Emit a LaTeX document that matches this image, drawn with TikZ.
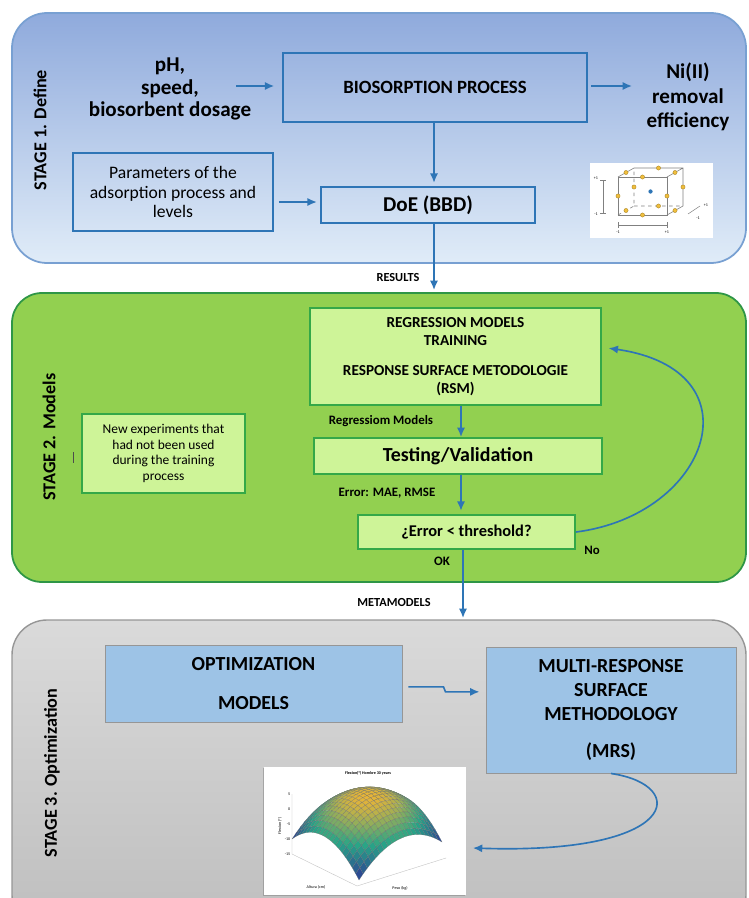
\documentclass[tikz,border=0pt]{standalone}
\usepackage{fontspec}
\setmainfont{Carlito}
\usetikzlibrary{arrows.meta,shadows}

\definecolor{lineblue}{RGB}{46,117,182}
\definecolor{defbordr}{RGB}{120,160,210}
\definecolor{deftop}{RGB}{143,170,220}
\definecolor{defbot}{RGB}{224,236,248}
\definecolor{modfill}{RGB}{146,208,80}
\definecolor{modbordr}{RGB}{46,150,70}
\definecolor{lightgreen}{RGB}{206,244,152}
\definecolor{boxgreen}{RGB}{52,168,72}
\definecolor{opttop}{RGB}{218,218,218}
\definecolor{optbot}{RGB}{190,190,190}
\definecolor{optbordr}{RGB}{150,150,150}
\definecolor{optbox}{RGB}{157,195,230}
\definecolor{pbl}{RGB}{45,55,150}
\definecolor{pgr}{RGB}{40,165,135}
\definecolor{pye}{RGB}{232,180,55}
\definecolor{dotyellow}{RGB}{240,190,60}

\tikzset{
  arr/.style={draw=lineblue, line width=1.4pt, -{Latex[length=8pt,width=7pt]}},
  bluebox/.style={draw=lineblue, line width=1.4pt, inner sep=0pt, align=center},
  greenbox/.style={draw=boxgreen, line width=1.6pt, fill=lightgreen, inner sep=0pt, align=center},
  optibox/.style={draw=optbordr, line width=0.8pt, fill=optbox, inner sep=0pt, align=center},
  stagelabel/.style={rotate=90, font=\fontsize{15.5}{18}\selectfont\bfseries},
  smalllabel/.style={font=\fontsize{10.5}{12}\selectfont\bfseries},
  tinylabel/.style={font=\fontsize{3.5}{4}\selectfont, inner sep=0.5pt},
}

\begin{document}
\begin{tikzpicture}[x=0.03cm, y=-0.03cm,
    declare function={sx(\u,\v)=367-16.75*\u+20.75*\v;
                      sy(\u,\v)=840.5-10.25*\u-9.5*\v-3*(15-1.875*(\u*\u+\v*\v));}]
\useasboundingbox (0,0) rectangle (748,898);

% STAGE 1
\draw[defbordr, line width=1.5pt, top color=deftop, bottom color=defbot, rounded corners=1.05cm] (12,13) rectangle (746,263);
\node[stagelabel] (stage1) at (40,130) {STAGE 1. Define};
\node[align=center, font=\fontsize{18}{19.5}\selectfont\bfseries] (inputs) at (170,89) {pH,\\speed,\\biosorbent dosage};
\node[bluebox, minimum width=9.12cm, minimum height=2.07cm, font=\fontsize{16}{18}\selectfont\bfseries] (bio) at (435,87.5) {BIOSORPTION PROCESS};
\node[align=center, font=\fontsize{18}{21}\selectfont\bfseries] (outputs) at (688,97) {Ni(II)\\removal\\efficiency};
\node[bluebox, minimum width=6cm, minimum height=2.34cm, font=\fontsize{15}{17}\selectfont] (params) at (173,192) {Parameters of the\\adsorption process and\\levels};
\node[bluebox, minimum width=6.42cm, minimum height=1.08cm, font=\fontsize{18}{20}\selectfont\bfseries] (doe) at (428,205) {DoE (BBD)};

\coordinate (spine1) at (434,0);
\coordinate (inarr) at (236,86);
\coordinate (outarr) at (632,86);
\coordinate (parrow) at (0,202);
\coordinate (results) at (434,290);
\draw[arr, shorten >=0.24cm] (inarr) -- (bio.west |- inarr);
\draw[arr, shorten <=0.1cm] (bio.east |- outarr) -- (outarr);
\draw[arr, shorten >=0.1cm] (bio.south -| spine1) -- (doe.north -| spine1);
\draw[arr, shorten <=0.15cm, shorten >=0.1cm] (params.east |- parrow) -- (doe.west |- parrow);
\draw[arr] (doe.south -| spine1) -- (results);
\node[smalllabel] (reslabel) at (398,278) {RESULTS};

% box-behnken cube
\fill[white] (590,163) rectangle (713,238);
\draw[gray, line width=0.5pt] (618,177) rectangle (667,215);
\draw[gray, line width=0.5pt] (618,177) -- (634,168) -- (683,168) -- (683,206) -- (667,215)
      (667,177) -- (683,168);
\draw[gray, line width=0.5pt, dashed] (618,215) -- (634,206) -- (634,168) (634,206) -- (683,206);
\foreach \p in {(642.5,177),(667,196),(642.5,215),(618,196),(658.5,168),(683,187),
                (658.5,206),(634,187),(626,172.5),(675,172.5),(675,210.5),(626,210.5)}
  \filldraw[fill=dotyellow, draw=dotyellow!70!black, line width=0.3pt] \p circle (1.8pt);
\fill[lineblue] (650.5,191.5) circle (1.8pt);
\draw[gray, line width=0.4pt] (603,180) -- (603,213) (600,180) -- (606,180) (600,213) -- (606,213);
\draw[gray, line width=0.4pt] (618,225) -- (667,225) (618,222) -- (618,228) (667,222) -- (667,228);
\draw[gray, line width=0.4pt] (688,214) -- (700,206);
\node[tinylabel] (cp1) at (596,178) {+1};
\node[tinylabel] (cm1) at (596,214) {-1};
\node[tinylabel] (cp2) at (618,232) {-1};
\node[tinylabel] (cm2) at (667,232) {+1};
\node[tinylabel] (cp3) at (706,205) {+1};
\node[tinylabel] (cm3) at (698,218) {-1};

% STAGE 2
\draw[modbordr, line width=1.5pt, fill=modfill, rounded corners=0.9cm] (12,293) rectangle (746,582);
\node[stagelabel] (stage2) at (49,437) {STAGE 2. Models};
\draw[black!70, line width=0.6pt] (73,452) -- (73,463);
\node[greenbox, minimum width=4.89cm, minimum height=2.37cm, font=\fontsize{11.5}{13.2}\selectfont] (newexp) at (163.5,453.5) {New experiments that\\had not been used\\during the training\\process};
\node[greenbox, minimum width=8.73cm, minimum height=2.91cm, font=\fontsize{13}{15.4}\selectfont\bfseries] (train) at (455.5,356.5) {REGRESSION MODELS\\TRAINING\\[10pt]RESPONSE SURFACE METODOLOGIE\\(RSM)};
\node[greenbox, minimum width=8.64cm, minimum height=1.08cm, font=\fontsize{17}{19}\selectfont\bfseries] (test) at (458,456) {Testing/Validation};
\node[greenbox, minimum width=6.51cm, minimum height=1.02cm, font=\fontsize{14}{16}\selectfont\bfseries] (check) at (466.5,532) {¿Error < threshold?};

\coordinate (spine2) at (461,0);
\coordinate (meta) at (463,618);
\draw[arr] (train.south -| spine2) -- (test.north -| spine2);
\draw[arr, shorten >=0.1cm] (test.south -| spine2) -- (check.north -| spine2);
\draw[arr] (check.south -| meta) -- (meta);
\draw[arr] (check.east) .. controls (710,515) and (760,370) .. ([xshift=0.2cm,yshift=0.25cm]train.east);
\node[smalllabel, font=\fontsize{11}{13}\selectfont\bfseries] (reglabel) at (381,421) {Regressiom Models};
\node[smalllabel, font=\fontsize{11}{13}\selectfont\bfseries] (errlabel) at (387,493) {Error: MAE, RMSE};
\node[smalllabel, font=\fontsize{11}{13}\selectfont\bfseries] (oklabel) at (442,561) {OK};
\node[smalllabel, font=\fontsize{11}{13}\selectfont\bfseries] (nolabel) at (592,550) {No};
\node[smalllabel] (metalabel) at (394,603) {METAMODELS};

% STAGE 3
\draw[optbordr, line width=1.2pt, top color=opttop, bottom color=optbot, rounded corners=1.05cm] (12,620) rectangle (746,930);
\node[stagelabel] (stage3) at (52,773) {STAGE 3. Optimization};
\node[optibox, minimum width=8.91cm, minimum height=2.31cm, font=\fontsize{17}{20.5}\selectfont\bfseries] (optim) at (253.5,683.5) {OPTIMIZATION\\[12pt]MODELS};
\node[optibox, minimum width=7.5cm, minimum height=3.78cm, font=\fontsize{17}{20.5}\selectfont\bfseries] (mrs) at (611,710) {MULTI-RESPONSE\\SURFACE\\METHODOLOGY\\[11pt](MRS)};
\node[fill=white, minimum width=6.06cm, minimum height=3.84cm, inner sep=0pt,
      drop shadow={shadow xshift=-0.8pt, shadow yshift=-0.8pt, opacity=0.5}] (plot) at (365,831) {};

\draw[arr] ([xshift=0.18cm,yshift=-0.1cm]optim.east) -- ++(35,0) -- ++(2,5) -- ++(34,0);
\draw[arr] (mrs.south) .. controls (690,785) and (680,855) .. ([xshift=0.2cm,yshift=-0.51cm]plot.east);

% surface plot
\draw[black!25, line width=0.3pt] (292,794) -- (292,854) -- (357,886) -- (446,858);
\foreach \i in {0,...,19}{
  \foreach \j in {0,...,19}{
    \pgfmathsetmacro{\ua}{2-0.2*\i}
    \pgfmathsetmacro{\va}{2-0.2*\j}
    \pgfmathsetmacro{\ub}{\ua-0.2}
    \pgfmathsetmacro{\vb}{\va-0.2}
    \pgfmathsetmacro{\zc}{5-1.875*((\ua-0.1)*(\ua-0.1)+(\va-0.1)*(\va-0.1))}
    \pgfmathtruncatemacro{\pone}{min(100,max(0,200*(\zc+10)/15))}
    \pgfmathtruncatemacro{\ptwo}{min(100,max(0,200*(\zc+10)/15-100))}
    \filldraw[fill=pye!\ptwo!pgr!\pone!pbl, draw=black!55, line width=0.1pt]
      ({sx(\ua,\va)},{sy(\ua,\va)}) -- ({sx(\ub,\va)},{sy(\ub,\va)})
      -- ({sx(\ub,\vb)},{sy(\ub,\vb)}) -- ({sx(\ua,\vb)},{sy(\ua,\vb)}) -- cycle;
  }
}
\node[tinylabel, font=\fontsize{3.5}{4}\selectfont\bfseries] (ptitle) at (368,773) {Flexion(°) Hombre 30 years};
\node[tinylabel, rotate=90] (pzlab) at (280,826) {Flexion (°)};
\node[tinylabel] (pxlab) at (316,887) {Altura (cm)};
\node[tinylabel] (pylab) at (400,888) {Peso (kg)};
\foreach \t/\yy in {5/794,0/809,-5/824,-10/839,-15/854}
  \node[tinylabel, anchor=east] (zt\yy) at (291,\yy) {\t};
\end{tikzpicture}
\end{document}
